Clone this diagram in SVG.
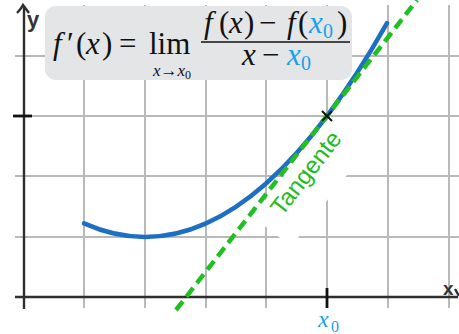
<svg xmlns="http://www.w3.org/2000/svg" width="459" height="334" viewBox="0 0 459 334">
<style>
.grid{stroke:#b9b9b9;stroke-width:2;fill:none}
.axis{stroke:#2e2e2e;stroke-width:2.4;fill:none}
.tick{stroke:#111;stroke-width:2.8}
.m{font-family:"Liberation Serif","Times New Roman",serif;font-size:31px;fill:#111}
.i{font-style:italic}
.b{fill:#1aa0e4}
.lbl{font-family:"Liberation Sans",Arial,sans-serif;font-weight:bold;fill:#333}
</style>
<rect width="459" height="334" fill="#fff"/>
<g id="grid" class="grid">
<path d="M84,5V308M145,5V308M206,5V308M266,5V308M327,5V308M388,5V308M449,5V308"/>
<path d="M15,56H459M15,116H459M15,176H459M15,237H459"/>
</g>
<g id="label-bg">
<rect transform="translate(327,116) rotate(-52.1)" x="-125" y="3" width="127" height="49" fill="#fff"/>
</g>
<g id="axes">
<path class="axis" d="M24,6V309"/>
<path class="axis" d="M15,297H458"/>
<path class="axis" d="M17,13Q21,9 23,5Q26,9 29,13"/>
<path class="axis" d="M455,289L459,296"/>
<text class="lbl" x="27" y="27" font-size="22">y</text>
<text class="lbl" x="443" y="295" font-size="19">x</text>
<line class="tick" x1="13" y1="116" x2="32" y2="116"/>
<line class="tick" x1="327" y1="288" x2="327" y2="308"/>
</g>
<g id="curve">
<path d="M84,223.4Q235.5,290.9 387,23.1" fill="none" stroke="#1d6fc3" stroke-width="4.5" stroke-linecap="round"/>
</g>
<g id="connectors">
<line id="tangent" x1="176" y1="310" x2="417" y2="0" stroke="#22bf22" stroke-width="4.5" stroke-dasharray="11 6"/>
</g>
<g id="point-x0">
<path d="M322,111L332,121M332,111L322,121" stroke="#111" stroke-width="2"/>
</g>
<g id="tangent-label">
<text transform="translate(282,217) rotate(-52.1)" font-family="'Liberation Sans',Arial,sans-serif" font-size="24" fill="#22bb22">Tangente</text>
</g>
<g id="x0-label">
<text class="m i b" x="318" y="327" style="font-size:24px">x</text>
<text class="m b" x="331" y="332" style="font-size:16px">0</text>
</g>
<g id="formula">
<rect x="45" y="6" width="307" height="74" rx="11" fill="#e3e5e6"/>
<text class="m i" x="53" y="54">f</text>
<text class="m" x="67" y="54">′</text>
<text class="m" x="76" y="54">(</text>
<text class="m i" x="86" y="54">x</text>
<text class="m" x="102" y="54">)</text>
<text class="m" x="119" y="54">=</text>
<text class="m" x="149" y="54">lim</text>
<text class="m" x="172" y="76" text-anchor="middle" style="font-size:17px"><tspan font-style="italic">x</tspan>→<tspan font-style="italic">x</tspan><tspan style="font-size:12px" dy="3">0</tspan></text>
<text class="m i" x="204" y="33">f</text>
<text class="m" x="219" y="33">(</text>
<text class="m i" x="229" y="33">x</text>
<text class="m" x="244" y="33">)</text>
<text class="m" x="259" y="33">−</text>
<text class="m i" x="287" y="33">f</text>
<text class="m" x="298" y="33">(</text>
<text class="m i b" x="309" y="33">x</text>
<text class="m b" x="323" y="38" style="font-size:20px">0</text>
<text class="m" x="337" y="33">)</text>
<line x1="201" y1="42" x2="350" y2="42" stroke="#111" stroke-width="1.7"/>
<text class="m i" x="242" y="65">x</text>
<text class="m" x="262" y="65">−</text>
<text class="m i b" x="287" y="65">x</text>
<text class="m b" x="301" y="70" style="font-size:20px">0</text>
</g>
</svg>
